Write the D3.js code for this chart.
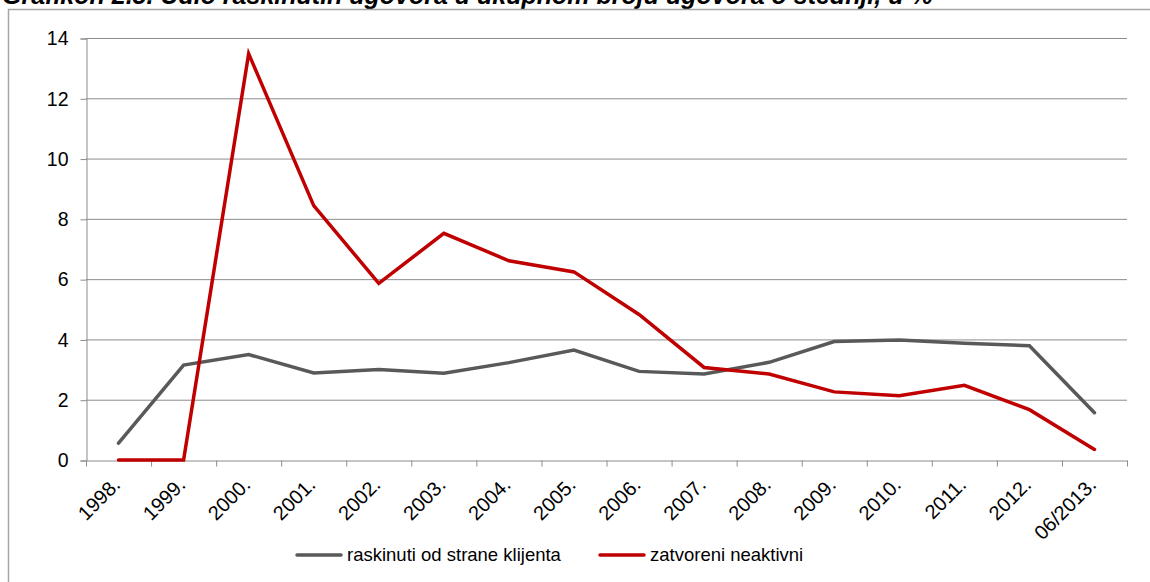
<!DOCTYPE html>
<html>
<head>
<meta charset="utf-8">
<script src="https://cdn.jsdelivr.net/npm/d3@7"></script>
<style>
  body { margin: 0; background: #fff; }
  svg { display: block; font-family: "Liberation Sans", Arial, sans-serif; }
</style>
</head>
<body>
<div id="chart"></div>
<script>
// categories and series
var years = ["1998.", "1999.", "2000.", "2001.", "2002.", "2003.", "2004.", "2005.",
  "2006.", "2007.", "2008.", "2009.", "2010.", "2011.", "2012.", "06/2013."];
var raskinuti = [0.56, 3.15, 3.5, 2.89, 3.0, 2.88, 3.23, 3.65, 2.94, 2.85, 3.24, 3.93, 3.98, 3.87, 3.79, 1.57];
var zatvoreni = [0, 0, 13.48, 8.44, 5.86, 7.52, 6.61, 6.24, 4.83, 3.07, 2.85, 2.26, 2.13, 2.48, 1.67, 0.35];
var yTicks = [0, 2, 4, 6, 8, 10, 12, 14];
var seriesNames = ["raskinuti od strane klijenta", "zatvoreni neaktivni"];
var seriesColors = ["#595959", "#c00000"];

var svgWidth = 1150;
var svgHeight = 582;

var margin = { top: 38, right: 23, bottom: 122, left: 86 };
var width = svgWidth - margin.left - margin.right;
var height = svgHeight - margin.top - margin.bottom;

var svg = d3.select("#chart")
  .append("svg")
  .attr("width", svgWidth)
  .attr("height", svgHeight);

// title (only its lower part shows, like in the original)
svg.append("text")
  .attr("x", 2)
  .attr("y", 4)
  .attr("font-size", "25px")
  .attr("font-weight", "bold")
  .attr("font-style", "italic")
  .attr("fill", "#000")
  .text("Grafikon 2.5. Udio raskinutih ugovora u ukupnom broju ugovora o štednji, u %");

// chart frame
svg.append("rect")
  .attr("x", 8.5)
  .attr("y", 9.5)
  .attr("width", 1160)
  .attr("height", 600)
  .attr("fill", "none")
  .attr("stroke", "#a6a6a6")
  .attr("stroke-width", 1.5);

var chartGroup = svg.append("g")
  .attr("transform", `translate(${margin.left}, ${margin.top})`);

var xBand = d3.scaleBand()
  .domain(years)
  .range([0, width]);

var yLinearScale = d3.scaleLinear()
  .domain([0, 14])
  .range([height, 0]);

// gridlines
chartGroup.selectAll(".grid")
  .data(yTicks.slice(1))
  .enter()
  .append("line")
  .attr("x1", 0)
  .attr("x2", width)
  .attr("y1", d => yLinearScale(d) + 0.5)
  .attr("y2", d => yLinearScale(d) + 0.5)
  .attr("stroke", "#8c8c8c")
  .attr("stroke-width", 1);

// y axis
var leftAxis = d3.axisLeft(yLinearScale)
  .tickValues(yTicks)
  .tickSize(6)
  .tickPadding(12);

var yAxisG = chartGroup.append("g")
  .attr("transform", "translate(0.5, 0.5)")
  .call(leftAxis);
yAxisG.select(".domain").attr("stroke", "#8c8c8c");
yAxisG.selectAll(".tick line").attr("stroke", "#8c8c8c");
yAxisG.selectAll(".tick text")
  .attr("font-size", "19.5px")
  .attr("fill", "#000")
  .attr("font-family", "Liberation Sans, Arial, sans-serif");

// x axis: ticks on category boundaries
var bottomAxis = d3.axisBottom(xBand).tickSize(0).tickFormat("");
var xAxisG = chartGroup.append("g")
  .attr("transform", `translate(0, ${height + 0.5})`)
  .call(bottomAxis);
xAxisG.select(".domain").attr("stroke", "#8c8c8c");

var bounds = years.map(d => xBand(d)).concat([width]);
xAxisG.selectAll(".bound")
  .data(bounds)
  .enter()
  .append("line")
  .attr("x1", d => d + 0.5)
  .attr("x2", d => d + 0.5)
  .attr("y1", 0)
  .attr("y2", 6)
  .attr("stroke", "#8c8c8c");

// rotated category labels
chartGroup.selectAll(".xlabel")
  .data(years)
  .enter()
  .append("text")
  .attr("transform", d => `translate(${xBand(d) + xBand.bandwidth() / 2 + 3}, ${height + 26}) rotate(-45)`)
  .attr("text-anchor", "end")
  .attr("font-size", "20px")
  .attr("fill", "#000")
  .text(d => d);

// lines
var line = d3.line()
  .x((d, i) => xBand(years[i]) + xBand.bandwidth() / 2)
  .y(d => yLinearScale(d));

[raskinuti, zatvoreni].forEach((values, i) => {
  chartGroup.append("path")
    .datum(values)
    .attr("d", line)
    .attr("fill", "none")
    .attr("stroke", seriesColors[i])
    .attr("stroke-width", 3.5)
    .attr("stroke-linejoin", "miter")
    .attr("stroke-linecap", "round");
});

// legend
var legendX = [297, 600];
var legend = svg.selectAll(".legend")
  .data(seriesNames)
  .enter()
  .append("g")
  .attr("transform", (d, i) => `translate(${legendX[i]}, 555)`);

legend.append("line")
  .attr("x1", 0)
  .attr("x2", 44)
  .attr("stroke", (d, i) => seriesColors[i])
  .attr("stroke-width", 3.5)
  .attr("stroke-linecap", "round");

legend.append("text")
  .attr("x", 50)
  .attr("dy", "0.35em")
  .attr("font-size", "18.5px")
  .attr("fill", "#000")
  .text(d => d);
</script>
</body>
</html>
